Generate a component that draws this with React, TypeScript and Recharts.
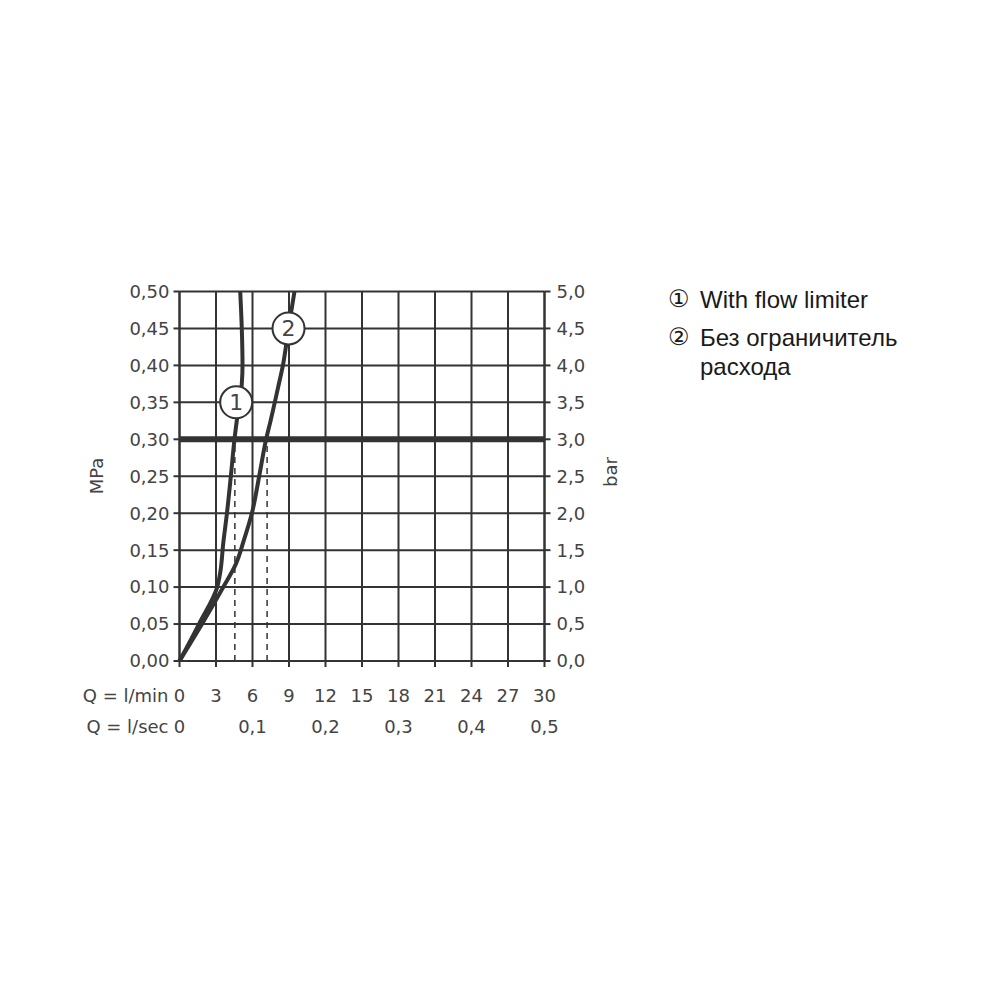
import React from "react";
import {
  LineChart,
  Line,
  XAxis,
  YAxis,
  CartesianGrid,
  ReferenceLine,
  ReferenceDot,
} from "recharts";

// axis ticks
const flowTicks = [0, 3, 6, 9, 12, 15, 18, 21, 24, 27, 30];
const secTicks = [0, 0.1, 0.2, 0.3, 0.4, 0.5];
const mpaTicks = [0, 0.05, 0.1, 0.15, 0.2, 0.25, 0.3, 0.35, 0.4, 0.45, 0.5];
const barTicks = [0, 0.5, 1, 1.5, 2, 2.5, 3, 3.5, 4, 4.5, 5];

// curve 1: with flow limiter (l/min, MPa)
const limiterFlow = [0, 1.6, 3.1, 3.35, 3.6, 3.9, 4.22, 4.52, 4.75, 5.0, 5.12, 5.18, 5.12, 4.99];
const limiterPressure = [0, 0.05, 0.1, 0.12, 0.16, 0.2, 0.25, 0.3, 0.33, 0.355, 0.375, 0.4, 0.45, 0.5];

// curve 2: without limiter
const freeFlow = [0, 1.85, 3.6, 4.6, 5.3, 5.95, 6.55, 7.12, 7.5, 8.1, 8.5, 8.96, 9.45];
const freePressure = [0, 0.05, 0.1, 0.13, 0.164, 0.2, 0.25, 0.3, 0.326, 0.37, 0.4, 0.45, 0.5];

const workingPressure = 0.3;
const dropFlows = [4.55, 7.2];

const markerFlows = [4.66, 8.96];
const markerPressures = [0.35, 0.45];
const markerLabels = ["1", "2"];

const legendItems = ["With flow limiter", "Без ограничитель расхода"];

const limiterData = limiterFlow.map((q, i) => ({ q, p: limiterPressure[i] }));
const freeData = freeFlow.map((q, i) => ({ q, p: freePressure[i] }));
// same curve in l/sec and bar, only so the secondary axes get a domain
const freeDataSecBar = freeFlow.map((q, i) => ({ q: q / 60, p: freePressure[i] * 10 }));

const INK = "#333";
const TEXT = "#444";
const FONT = "DejaVu Sans";

const comma = (v: number, d: number) => v.toFixed(d).replace(".", ",");

function BottomTick(props: any) {
  const { x, y, payload, prefix, digits } = props;
  const label = payload.value === 0 || digits === 0 ? String(payload.value) : comma(payload.value, digits);
  return (
    <g>
      <text x={x} y={y} dy="0.71em" textAnchor="middle" fill={TEXT} fontSize={18} fontFamily={FONT}>
        {label}
      </text>
      {payload.value === 0 && (
        <text x={x - 11} y={y} dy="0.71em" textAnchor="end" fill={TEXT} fontSize={18} fontFamily={FONT}>
          {prefix}
        </text>
      )}
    </g>
  );
}

function SideTitle({ x, y, text }: { x: number; y: number; text: string }) {
  return (
    <text
      x={x}
      y={y}
      transform={`rotate(-90 ${x} ${y})`}
      textAnchor="middle"
      dominantBaseline="central"
      fill={TEXT}
      fontSize={18}
      fontFamily={FONT}
    >
      {text}
    </text>
  );
}

export default function App() {
  return (
    <div style={{ position: "relative", width: 984, height: 984 }}>
      <LineChart
        width={984}
        height={984}
        margin={{ top: 283.5, right: 387.5, left: 101.5, bottom: 261 }}
      >
        <CartesianGrid xAxisId="min" yAxisId="mpa" stroke={INK} strokeWidth={2} horizontal vertical />
        <XAxis
          xAxisId="min"
          dataKey="q"
          type="number"
          domain={[0, 30]}
          ticks={flowTicks}
          interval={0}
          height={30}
          axisLine={{ stroke: INK, strokeWidth: 2 }}
          tickLine={{ stroke: INK, strokeWidth: 2 }}
          tickSize={6}
          tickMargin={22}
          tick={(p: any) => <BottomTick {...p} prefix="Q = l/min" digits={0} />}
        />
        <XAxis
          xAxisId="sec"
          dataKey="q"
          type="number"
          domain={[0, 0.5]}
          ticks={secTicks}
          interval={0}
          height={40}
          axisLine={false}
          tickLine={false}
          tickSize={0}
          tickMargin={29.5}
          tick={(p: any) => <BottomTick {...p} prefix="Q = l/sec" digits={1} />}
        />
        <YAxis
          yAxisId="mpa"
          type="number"
          domain={[0, 0.5]}
          ticks={mpaTicks}
          interval={0}
          width={70}
          axisLine={{ stroke: INK, strokeWidth: 2 }}
          tickLine={{ stroke: INK, strokeWidth: 2 }}
          tickSize={6}
          tickMargin={4}
          tick={{ fill: TEXT, fontSize: 18, fontFamily: FONT }}
          tickFormatter={(v: number) => comma(v, 2)}
          label={{ content: () => <SideTitle x={88} y={468} text="MPa" /> }}
        />
        <YAxis
          yAxisId="bar"
          orientation="right"
          type="number"
          domain={[0, 5]}
          ticks={barTicks}
          interval={0}
          width={60}
          axisLine={{ stroke: INK, strokeWidth: 2 }}
          tickLine={{ stroke: INK, strokeWidth: 2 }}
          tickSize={6}
          tickMargin={6}
          tick={{ fill: TEXT, fontSize: 18, fontFamily: FONT, textAnchor: "start" }}
          tickFormatter={(v: number) => comma(v, 1)}
          label={{ content: () => <SideTitle x={602} y={464} text="bar" /> }}
        />

        {dropFlows.map((q) => (
          <ReferenceLine
            key={q}
            xAxisId="min"
            yAxisId="mpa"
            segment={[
              { x: q, y: 0 },
              { x: q, y: workingPressure },
            ]}
            stroke={INK}
            strokeWidth={1.5}
            strokeDasharray="6 5"
          />
        ))}
        <ReferenceLine xAxisId="min" yAxisId="mpa" y={workingPressure} stroke={INK} strokeWidth={6} />

        <Line
          xAxisId="sec"
          yAxisId="bar"
          data={freeDataSecBar}
          dataKey="p"
          type="monotoneY"
          stroke="none"
          strokeWidth={0}
          dot={false}
          activeDot={false}
          isAnimationActive={false}
        />
        <Line
          xAxisId="min"
          yAxisId="mpa"
          data={limiterData}
          dataKey="p"
          type="monotoneY"
          stroke={INK}
          strokeWidth={4}
          dot={false}
          isAnimationActive={false}
        />
        <Line
          xAxisId="min"
          yAxisId="mpa"
          data={freeData}
          dataKey="p"
          type="monotoneY"
          stroke={INK}
          strokeWidth={4}
          dot={false}
          isAnimationActive={false}
        />

        {markerFlows.map((q, i) => (
          <ReferenceDot
            key={markerLabels[i]}
            xAxisId="min"
            yAxisId="mpa"
            x={q}
            y={markerPressures[i]}
            r={16}
            fill="#fff"
            stroke={INK}
            strokeWidth={2}
            label={{
              value: markerLabels[i],
              position: "center",
              fill: TEXT,
              fontSize: 22,
              fontFamily: FONT,
            }}
          />
        ))}
      </LineChart>

      <div
        style={{
          position: "absolute",
          left: 660,
          top: 277,
          fontFamily: "Liberation Sans, Arial, sans-serif",
          fontSize: 24,
          color: "#1a1a1a",
          lineHeight: "29px",
        }}
      >
        <div style={{ display: "flex" }}>
          <span style={{ width: 32, flexShrink: 0, fontFamily: FONT, fontSize: 24 }}>①</span>
          <span>{legendItems[0]}</span>
        </div>
        <div style={{ display: "flex", marginTop: 9 }}>
          <span style={{ width: 32, flexShrink: 0, fontFamily: FONT, fontSize: 24 }}>②</span>
          <span style={{ width: 230 }}>{legendItems[1]}</span>
        </div>
      </div>
    </div>
  );
}
